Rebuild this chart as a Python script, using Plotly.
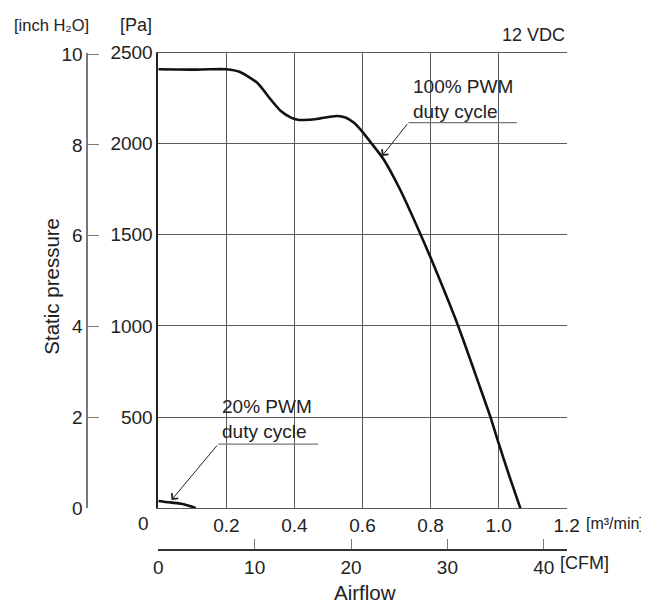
import plotly.graph_objects as go

# 100% PWM duty cycle curve (airflow m3/min, static pressure Pa)
flow_100 = [0, 0.05, 0.1, 0.15, 0.2, 0.24, 0.29, 0.33, 0.36, 0.39, 0.41, 0.44, 0.47, 0.5,
            0.525, 0.55, 0.575, 0.6, 0.625, 0.66, 0.71, 0.77, 0.8, 0.88, 0.946, 0.976, 1.0, 1.03, 1.064]
pa_100 = [2408, 2407, 2406, 2408, 2408, 2393, 2335, 2243, 2179, 2143, 2131, 2131, 2137, 2146,
          2152, 2144, 2115, 2065, 2005, 1920, 1750, 1505, 1375, 1005, 660, 500, 357, 185, 0]

# 20% PWM duty cycle curve
flow_20 = [0, 0.02, 0.04, 0.06, 0.08, 0.1, 0.11]
pa_20 = [40, 35, 31, 27, 20, 8, 0]

flow_ticks = [0.2, 0.4, 0.6, 0.8, 1.0, 1.2]
pa_ticks = [500, 1000, 1500, 2000, 2500]
inch_ticks = [0, 2, 4, 6, 8, 10]
cfm_ticks = [0, 10, 20, 30, 40]

PA_PER_INCH = 249.089
CFM_PER_M3MIN = 35.3147

# page body has an 8px margin, so the figure is drawn 8px in from the window edge
OFF = 8
W, H = 649 - OFF, 604 - OFF
FONT = "Liberation Sans, Arial, sans-serif"
TXT = "#222"
GRID = "#5a5a5a"

def px(x):
    return (x - OFF) / W

def py(y):
    return 1 - (y - OFF) / H

fig = go.Figure()
fig.add_trace(go.Scatter(x=flow_100, y=pa_100, mode="lines", line=dict(color="#111", width=2.6, shape="spline", smoothing=0.6),
                         showlegend=False, hoverinfo="skip"))
fig.add_trace(go.Scatter(x=flow_20, y=pa_20, mode="lines", line=dict(color="#111", width=2.6, shape="spline", smoothing=0.6),
                         showlegend=False, hoverinfo="skip"))
# dummy traces so the extra axes get drawn
fig.add_trace(go.Scatter(x=[0], y=[0], xaxis="x2", yaxis="y", mode="markers", marker=dict(opacity=0),
                         showlegend=False, hoverinfo="skip"))
fig.add_trace(go.Scatter(x=[0], y=[0], xaxis="x", yaxis="y2", mode="markers", marker=dict(opacity=0),
                         showlegend=False, hoverinfo="skip"))

x0, x1 = 158.3, 566.7
ytop, ybot = 52.5, 508.3

fig.update_layout(
    width=W, height=H, margin=dict(l=0, r=0, t=0, b=0, autoexpand=False),
    paper_bgcolor="white", plot_bgcolor="white",
    font=dict(family=FONT, size=19, color=TXT),
    xaxis=dict(domain=[px(x0), px(x1)], range=[0, 1.2], tickvals=flow_ticks,
               ticktext=["0.2", "0.4", "0.6", "0.8", "1.0", "1.2"], automargin=False,
               showgrid=True, gridcolor=GRID, gridwidth=1.4, zeroline=False,
               showline=True, linecolor=GRID, linewidth=1.4, mirror=True, ticks=""),
    yaxis=dict(domain=[py(ybot), py(ytop)], range=[0, 2500], tickvals=pa_ticks, automargin=False,
               showgrid=True, gridcolor=GRID, gridwidth=1.4, zeroline=False,
               showline=True, linecolor="#222", linewidth=1.6, mirror=False, ticks=""),
    yaxis2=dict(overlaying="y", anchor="free", position=px(87.3), side="left", automargin=False,
                range=[0, 2500 / PA_PER_INCH], tickvals=inch_ticks,
                showgrid=False, zeroline=False, showline=True, linecolor="#777", linewidth=1.6,
                ticks="inside", ticklen=11, tickcolor="#777", tickwidth=1.4),
    xaxis2=dict(overlaying="x", anchor="free", position=py(550), side="bottom", automargin=False,
                range=[0, 1.2 * CFM_PER_M3MIN], tickvals=cfm_ticks,
                showgrid=False, zeroline=False, showline=True, linecolor="#333", linewidth=1.6,
                ticks="inside", ticklen=10, tickcolor="#777", tickwidth=1.4),
)

def label(text, x, y, size=19, xanchor="center", angle=0, align="center"):
    fig.add_annotation(text=text, x=px(x), y=py(y), xref="paper", yref="paper",
                       xanchor=xanchor, yanchor="middle", showarrow=False, textangle=angle,
                       align=align, font=dict(family=FONT, size=size, color=TXT))

label("[inch H₂O]", 51.5, 25, size=16.5)
label("[Pa]", 136, 25, size=18)
label("12 VDC", 567, 35, xanchor="right", size=18)
label("0", 143.5, 523)
label("[m³/min]", 615, 523, size=16)
label("[CFM]", 584.5, 563, size=18)
label("Airflow", 364.7, 592, size=20.5)
label("Static pressure", 51.7, 286, size=20.5, angle=-90)
label("100% PWM<br>duty cycle", 411, 99, xanchor="left", align="left")
label("20% PWM<br>duty cycle", 220, 419, xanchor="left", align="left")

# leader lines under the curve labels
fig.add_shape(type="line", x0=0.735, y0=2115, x1=1.054, y1=2115, xref="x", yref="y",
              line=dict(color="#777", width=1.3))
fig.add_shape(type="line", x0=0.176, y0=352, x1=0.47, y1=352, xref="x", yref="y",
              line=dict(color="#777", width=1.3))
fig.add_annotation(x=0.657, y=1932, ax=0.735, ay=2115, axref="x", ayref="y", xref="x", yref="y",
                   text="", showarrow=True, arrowhead=4, arrowsize=1.6, arrowwidth=1, arrowcolor="#222")
fig.add_annotation(x=0.039, y=46, ax=0.176, ay=352, axref="x", ayref="y", xref="x", yref="y",
                   text="", showarrow=True, arrowhead=4, arrowsize=1.6, arrowwidth=1, arrowcolor="#222")

fig.write_html("out.html")
